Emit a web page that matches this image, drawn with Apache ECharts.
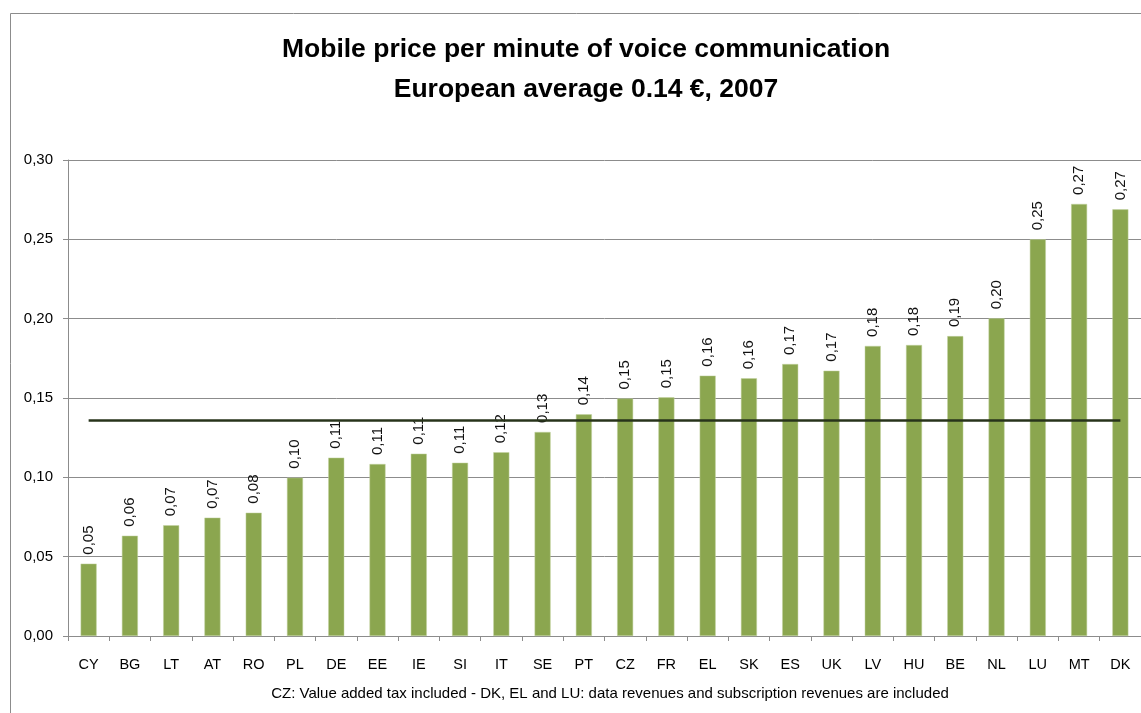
<!DOCTYPE html>
<html>
<head>
<meta charset="utf-8">
<title>Mobile price per minute of voice communication</title>
<script src="https://cdn.jsdelivr.net/npm/echarts@6/dist/echarts.min.js"></script>
<style>
  html, body { margin: 0; padding: 0; background: #ffffff; }
  #mobilePrice { width: 1141px; height: 713px; }
</style>
</head>
<body>
<div id="mobilePrice"></div>
<script>
// countries, sorted by price
var countries = ["CY", "BG", "LT", "AT", "RO", "PL", "DE", "EE", "IE", "SI", "IT", "SE", "PT",
  "CZ", "FR", "EL", "SK", "ES", "UK", "LV", "HU", "BE", "NL", "LU", "MT", "DK"];
// price per minute, EUR
var prices = [0.0456, 0.0632, 0.0698, 0.0746, 0.0777, 0.0998, 0.1124, 0.1084, 0.1149, 0.1092, 0.1158, 0.1286, 0.1397,
  0.1497, 0.1504, 0.1641, 0.1624, 0.1714, 0.1672, 0.1828, 0.1834, 0.189, 0.2002, 0.25, 0.2723, 0.2689];
// european average line
var europeanAverage = 0.1361;
var yTicks = [0, 0.05, 0.1, 0.15, 0.2, 0.25, 0.3];

var footnote = "CZ: Value added tax included - DK, EL and LU: data revenues and subscription revenues are included";

function comma(v) {
  return v.toFixed(2).replace(".", ",");
}

var myChart = echarts.init(document.getElementById("mobilePrice"));
var font = "Liberation Sans, Arial, sans-serif";

var option = {
  backgroundColor: "#ffffff",
  animation: false,
  textStyle: { fontFamily: font },
  title: [
    {
      text: "Mobile price per minute of voice communication\nEuropean average 0.14 €, 2007",
      left: 581,
      top: 25,
      textAlign: "center",
      textStyle: { fontSize: 26.5, fontWeight: "bold", color: "#000", lineHeight: 40, fontFamily: font }
    },
    {
      text: footnote,
      left: 605,
      top: 681,
      textAlign: "center",
      textStyle: { fontSize: 15, fontWeight: "normal", color: "#000", fontFamily: font }
    }
  ],
  // grey frame round the whole chart
  graphic: [
    {
      type: "rect",
      shape: { x: 10.5, y: 13.5, width: 1200, height: 800 },
      style: { fill: "none", stroke: "#8c8c8c", lineWidth: 1 },
      silent: true
    }
  ],
  grid: {
    left: 68,
    right: -2,
    top: 160,
    bottom: 77
  },
  xAxis: {
    type: "category",
    data: countries,
    axisLine: { lineStyle: { color: "#8c8c8c" } },
    axisTick: { show: true, length: 5, lineStyle: { color: "#8c8c8c" } },
    axisLabel: { interval: 0, fontSize: 14.5, color: "#000", margin: 21 }
  },
  yAxis: {
    type: "value",
    min: yTicks[0],
    max: yTicks[yTicks.length - 1],
    interval: 0.05,
    axisLine: { show: true, lineStyle: { color: "#8c8c8c" } },
    axisTick: { show: true, length: 5, lineStyle: { color: "#8c8c8c" } },
    axisLabel: {
      fontSize: 15,
      color: "#000",
      margin: 15,
      formatter: function (v) { return comma(v); }
    },
    splitLine: { lineStyle: { color: "#8c8c8c" } }
  },
  series: [
    {
      name: "price",
      type: "bar",
      data: prices,
      barWidth: 16,
      itemStyle: { color: "#8ba64f", borderColor: "#c3d3a0", borderWidth: 0.5 },
      label: {
        show: true,
        position: "top",
        rotate: 90,
        align: "left",
        verticalAlign: "middle",
        distance: 9,
        fontSize: 15,
        color: "#111",
        formatter: function (p) { return comma(p.value); }
      },
      markLine: {
        silent: true,
        symbol: "none",
        label: { show: false },
        lineStyle: { color: "#27331a", width: 2.5, type: "solid" },
        data: [
          [
            { coord: [countries[0], europeanAverage] },
            { coord: [countries[countries.length - 1], europeanAverage] }
          ]
        ]
      }
    }
  ]
};

myChart.setOption(option);
</script>
</body>
</html>
